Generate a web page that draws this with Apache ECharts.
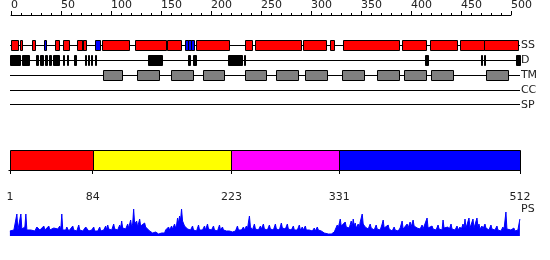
<!DOCTYPE html>
<html>
<head>
<meta charset="utf-8">
<script src="https://cdn.jsdelivr.net/npm/echarts@6/dist/echarts.min.js"></script>
<style>
html,body{margin:0;padding:0;background:#fff;}
#chart{width:550px;height:260px;}
</style>
</head>
<body>
<div id="chart"></div>
<script>
// ---- data ----
const seqLength = 512;
const rulerMax = 500;
const trackNames = ['SS', 'D', 'TM', 'CC', 'SP'];
const ssHelix = [[2,9],[11,13],[23,26],[46,50],[54,60],[68,73],[74,77],[93,120],[126,157],[158,172],[187,221],[237,244],[247,293],[295,318],[322,326],[335,391],[394,418],[422,449],[452,476],[476,510]];
const ssStrand = [[35,37],[73,74],[86,91],[176,179],[179,182],[182,185]];
const disorder = [[1,11],[13,20],[27,29],[31,34],[36,38],[40,42],[44,50],[54,55],[58,59],[65,67],[76,77],[79,80],[82,83],[86,87],[139,153],[179,181],[184,187],[220,234],[236,237],[417,420],[473,474],[476,477],[508,512]];
const transmembrane = [[94,113],[128,150],[162,184],[194,216],[237,258],[268,290],[297,319],[334,356],[369,391],[396,418],[423,445],[478,500]];
const coiledCoil = [];
const signalPeptide = [];
const domainStarts = [1, 84, 223, 331];
const domainEnds = [84, 223, 331, 512];
const domainTicks = [1, 84, 223, 331, 512];
const psResidue = [
  1,3,5,7,8,9,11,12,13,15,16,17,18,20,22,24,26,28,30,
  31,33,35,36,38,40,41,43,45,47,49,50,51,52,53,54,56,57,58,60,
  61,62,64,65,67,68,70,71,73,74,76,77,79,80,82,83,85,86,88,89,91,
  92,94,95,97,98,99,100,102,103,105,106,108,109,111,112,113,114,116,117,119,120,
  122,123,124,125,126,127,128,129,131,132,133,134,136,137,138,139,141,142,144,145,147,148,150,151,153,
  154,156,157,159,160,161,163,164,166,167,168,169,170,171,172,173,174,175,176,178,179,181,
  182,184,185,187,188,190,191,193,194,196,197,199,200,202,203,205,206,208,209,
  211,212,214,215,217,218,220,221,223,224,226,227,229,230,232,233,235,236,238,239,241,242,243,
  244,246,247,249,250,252,253,255,256,258,259,261,262,264,265,267,268,270,
  271,273,274,276,277,279,280,282,283,285,286,288,289,291,292,294,295,297,298,300,
  301,303,304,306,307,309,310,312,313,315,316,318,320,321,323,324,326,327,
  328,329,330,332,333,334,335,337,338,340,341,343,344,345,346,347,348,350,351,352,354,355,356,357,359,360,
  362,363,365,366,368,369,371,372,374,375,376,377,378,380,381,383,384,386,387,389,390,
  392,393,394,395,396,397,399,400,402,403,405,406,408,409,411,412,414,415,416,417,419,420,
  421,422,424,425,427,428,430,431,433,434,435,436,437,438,440,441,443,444,446,447,449,450,
  452,453,455,456,457,458,459,460,461,462,463,464,465,466,467,468,469,470,471,472,474,475,477,478,480,
  481,483,484,486,487,489,490,492,493,495,496,498,499,500,501,503,504,506,507,508,509,510,511,512
];
const psScore = [
  5,7,6,8,22,6,7,22,7,6,9,22,6,7,6,8,5,9,10,
  6,7,10,6,7,10,6,5,8,6,7,5,10,6,22,6,8,6,9,5,
  7,6,10,6,8,5,11,6,8,5,6,9,10,5,7,6,9,5,6,5,9,
  5,7,6,10,6,11,7,9,6,12,7,8,6,11,8,15,8,10,7,12,8,
  16,9,12,27,12,10,15,9,17,10,12,8,13,9,10,7,5,4,3,3,4,3,2,2,3,
  4,3,6,5,9,6,10,7,12,8,11,18,13,20,16,27,15,16,10,11,7,8,
  6,10,6,7,5,11,6,8,6,10,6,12,7,8,6,10,6,7,5,
  11,6,9,6,8,5,7,5,3,4,6,5,10,6,8,6,9,6,10,7,20,9,9,
  6,12,7,8,6,10,7,12,7,9,6,11,7,8,6,12,7,9,
  6,13,8,10,7,12,7,8,6,10,6,8,6,11,6,9,6,10,6,8,
  6,6,5,8,5,9,6,8,5,5,3,2,2,2,2,3,4,6,
  5,11,8,17,10,12,8,14,9,11,8,15,9,17,10,13,8,12,8,14,22,12,13,9,10,7,
  12,8,9,6,11,7,8,6,12,16,8,10,7,11,7,7,5,9,6,7,5,
  8,6,15,7,8,6,12,8,14,9,16,10,12,8,10,7,11,7,9,7,18,8,
  9,6,10,7,8,6,11,7,9,6,16,8,10,7,9,6,12,7,8,6,10,6,
  9,6,12,8,17,8,10,7,18,8,9,7,17,8,10,7,18,9,12,7,10,7,12,8,9,
  6,11,7,8,6,10,6,7,5,9,6,24,7,8,6,6,5,8,5,7,6,6,5,17
];

// ---- styles ----
const FONT = 'DejaVu Sans';
const TXT = '#222';
const domainColors = ['#ff0000', '#ffff00', '#ff00ff', '#0000ff'];

function segRenderer(fill) {
  return function (params, api) {
    const row = api.value(2);
    const a = api.coord([api.value(0), row]);
    const b = api.coord([api.value(1), row]);
    const x0 = Math.round(a[0]) + 0.5;
    let x1 = Math.round(b[0]) + 0.5;
    if (x1 - x0 < 1) x1 = x0 + 1;
    const yc = Math.floor(a[1]);
    return {
      type: 'rect',
      shape: { x: x0, y: yc - 5 + 0.5, width: x1 - x0, height: 10 },
      style: { fill: fill, stroke: '#000', lineWidth: 1 }
    };
  };
}
function trackLineRender(params, api) {
  const row = api.value(2);
  const a = api.coord([api.value(0), row]);
  const b = api.coord([api.value(1), row]);
  const y = Math.floor(a[1]) + 0.5;
  return {
    type: 'line',
    shape: { x1: Math.round(a[0]), y1: y, x2: Math.round(b[0]), y2: y },
    style: { stroke: '#000', lineWidth: 1 }
  };
}
function domainRender(params, api) {
  const a = api.coord([api.value(0), 1]);
  const b = api.coord([api.value(1), 0]);
  const x0 = Math.round(a[0]) + 0.5;
  const x1 = Math.round(b[0]) + 0.5;
  const y0 = Math.round(a[1]) + 0.5;
  const y1 = Math.round(b[1]) + 0.5;
  return {
    type: 'rect',
    shape: { x: x0, y: y0, width: x1 - x0, height: y1 - y0 },
    style: { fill: domainColors[params.dataIndex], stroke: '#000', lineWidth: 1 }
  };
}
const rows = (list, r) => list.map(([s, e]) => [s, e, r]);

const chart = echarts.init(document.getElementById('chart'), null, { renderer: 'canvas' });
const option = {
  animation: false,
  grid: [
    { left: 11, top: 0, width: 500, height: 15 },
    { left: 8.9, top: 38.2, width: 511, height: 74 },
    { left: 8.9, top: 150, width: 511, height: 20 },
    { left: 8.9, top: 206, width: 511, height: 30 }
  ],
  xAxis: [
    {
      gridIndex: 0, type: 'value', min: 0, max: rulerMax, interval: 50, position: 'bottom',
      axisLine: { lineStyle: { color: '#000', width: 1 } },
      axisTick: { inside: true, length: 4, lineStyle: { color: '#000' } },
      minorTick: { show: true, splitNumber: 5, length: 2, lineStyle: { color: '#000' } },
      axisLabel: { inside: true, align: 'left', margin: 4, fontSize: 11, color: TXT, fontFamily: FONT, showMinLabel: true, showMaxLabel: true },
      splitLine: { show: false }, minorSplitLine: { show: false }
    },
    { gridIndex: 1, type: 'value', min: 0, max: seqLength, show: false },
    {
      gridIndex: 2, type: 'value', min: 0, max: seqLength, position: 'bottom', offset: 10,
      axisLine: { lineStyle: { color: '#000', width: 1 } },
      axisTick: { customValues: domainTicks, length: 4, lineStyle: { color: '#000' } },
      axisLabel: { customValues: domainTicks, margin: 12, fontSize: 11, color: TXT, fontFamily: FONT },
      splitLine: { show: false }
    },
    { gridIndex: 3, type: 'value', min: 0, max: seqLength, show: false }
  ],
  yAxis: [
    { gridIndex: 0, type: 'value', min: 0, max: 1, show: false },
    {
      gridIndex: 1, type: 'category', data: trackNames, inverse: true, position: 'right',
      axisLine: { show: false }, axisTick: { show: false }, splitLine: { show: false },
      axisLabel: { margin: 1, fontSize: 11, color: TXT, fontFamily: FONT }
    },
    { gridIndex: 2, type: 'value', min: 0, max: 1, show: false },
    { gridIndex: 3, type: 'value', min: 0, max: 30, show: false }
  ],
  graphic: [
    { type: 'text', left: 521, top: 204, style: { text: 'PS', fontSize: 11, fill: TXT, fontFamily: FONT } }
  ],
  series: [
    { type: 'custom', xAxisIndex: 1, yAxisIndex: 1, renderItem: trackLineRender,
      data: trackNames.map((n, i) => [1, seqLength, i]) },
    { type: 'custom', xAxisIndex: 1, yAxisIndex: 1, renderItem: segRenderer('#ff0000'), data: rows(ssHelix, 0) },
    { type: 'custom', xAxisIndex: 1, yAxisIndex: 1, renderItem: segRenderer('#0000ff'), data: rows(ssStrand, 0) },
    { type: 'custom', xAxisIndex: 1, yAxisIndex: 1, renderItem: segRenderer('#000000'), data: rows(disorder, 1) },
    { type: 'custom', xAxisIndex: 1, yAxisIndex: 1, renderItem: segRenderer('#808080'), data: rows(transmembrane, 2) },
    { type: 'custom', xAxisIndex: 1, yAxisIndex: 1, renderItem: segRenderer('#ffa500'), data: rows(coiledCoil, 3) },
    { type: 'custom', xAxisIndex: 1, yAxisIndex: 1, renderItem: segRenderer('#00aa00'), data: rows(signalPeptide, 4) },
    { type: 'custom', xAxisIndex: 2, yAxisIndex: 2, renderItem: domainRender,
      data: domainStarts.map((s, i) => [s, domainEnds[i]]) },
    { type: 'line', xAxisIndex: 3, yAxisIndex: 3, symbol: 'none', silent: true,
      data: psResidue.map((r, i) => [r, psScore[i]]),
      lineStyle: { color: '#0000ff', width: 1 },
      areaStyle: { color: '#0000ff', opacity: 1 } }
  ]
};
chart.setOption(option);
</script>
</body>
</html>
